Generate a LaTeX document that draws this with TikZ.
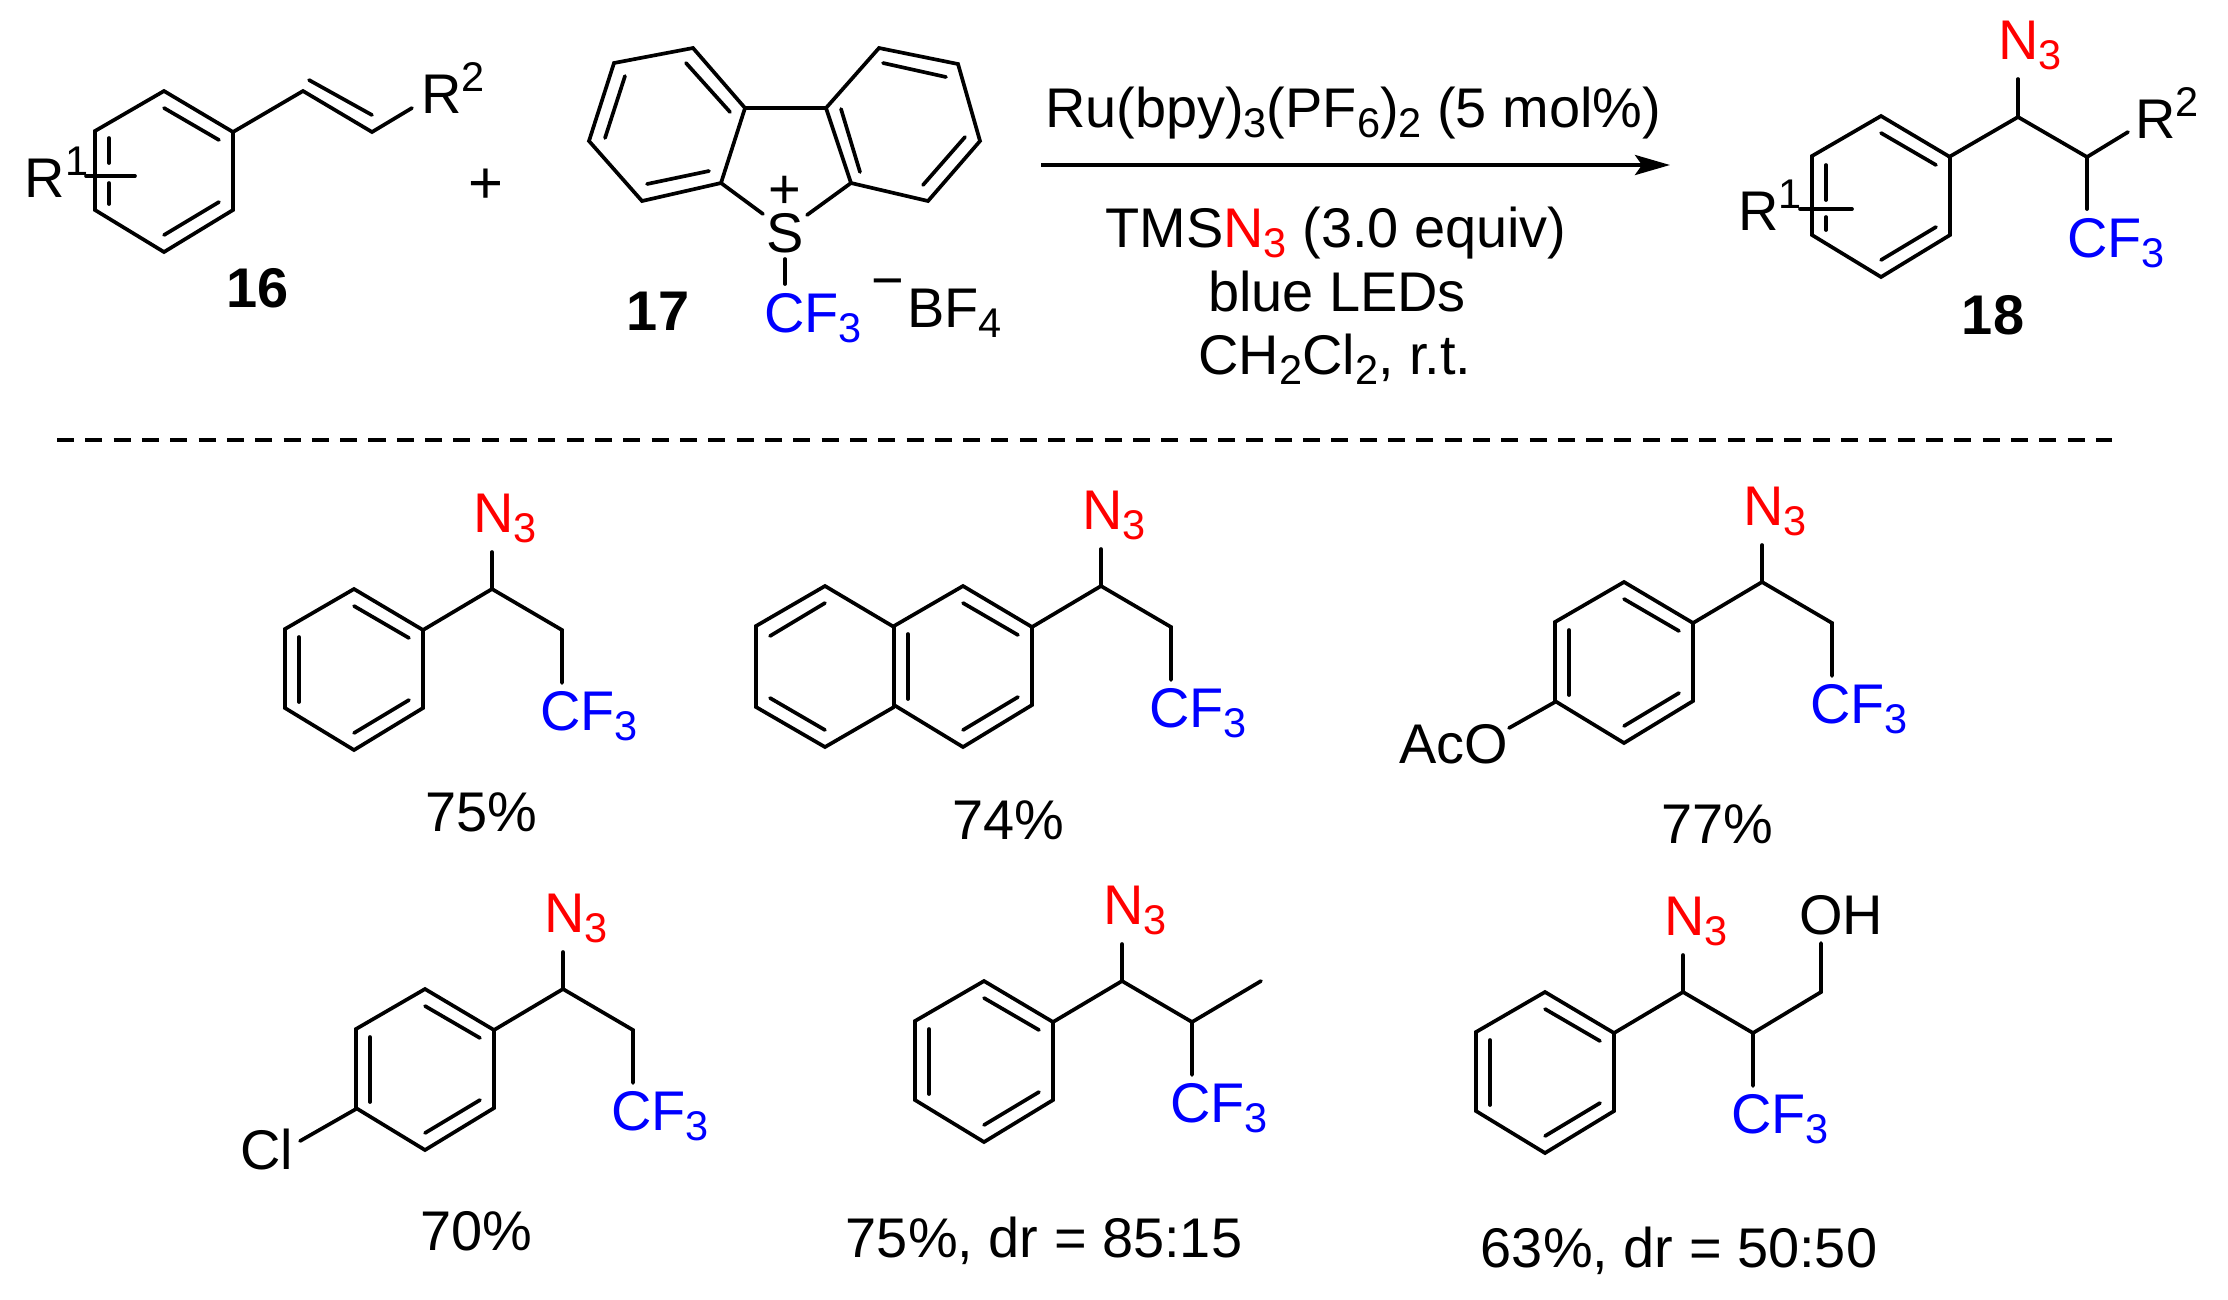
\documentclass[tikz,border=0pt]{standalone}
\usepackage{fontspec}
\setmainfont{Liberation Sans}
\usetikzlibrary{arrows.meta}
\definecolor{azide}{RGB}{255,0,0}
\definecolor{fluoro}{RGB}{0,0,255}
\newcommand{\sbb}[1]{{\fontsize{11.8}{12}\selectfont\raisebox{-3pt}{#1}}}
\newcommand{\spp}[1]{{\fontsize{11.8}{12}\selectfont\raisebox{6pt}{#1}}}
\tikzset{
  bond/.style={line width=1.05pt,line cap=round,line join=miter,black},
  lab/.style={inner sep=0pt,outer sep=0pt,anchor=base west,xshift=-0.04cm,font=\fontsize{15.9}{18}\selectfont},
  ctr/.style={inner sep=0pt,outer sep=0pt,anchor=base,font=\fontsize{15.9}{18}\selectfont},
  num/.style={inner sep=0pt,outer sep=0pt,anchor=base,font=\fontsize{15.9}{18}\selectfont\bfseries},
  ringbase/.pic={
    \draw[bond] (0,0)--(69,41)--(69,119)--(0,161)--(-69,119)--(-69,40)--cycle;
    \draw[bond] (0,17)--(55,49);
    \draw[bond] (55,111)--(0,144);
  },
  ringfull/.pic={
    \pic {ringbase};
    \draw[bond] (-55,48)--(-55,113);
  },
  azcf/.pic={
    \draw[bond] (69,41)--(138,0)--(208,41)--(208,94);
    \draw[bond] (138,0)--(138,-37);
    \node[lab,text=azide] (n) at (123,-57) {N\sbb{3}};
    \node[lab,text=fluoro] (c) at (190,141) {CF\sbb{3}};
  }
}
\begin{document}
\begin{tikzpicture}[x=0.01cm,y=-0.01cm]
\useasboundingbox (0,0) rectangle (2228,1299);
% --- 16
\pic at (164,91) {ringbase};
\draw[bond] (109,138)--(109,163);
\draw[bond] (109,183)--(109,204);
\draw[bond] (86,176)--(135,176);
\draw[bond] (233,132)--(303,91)--(372,132)--(412,108);
\draw[bond] (309,80)--(372,115);
\node[lab] (r1a) at (29,197) {R\spp{1}};
\node[lab] (r2a) at (425,113) {R\spp{2}};
\node[num] (n16) at (258,307) {16};
\node[ctr,font=\fontsize{17}{18}\selectfont] (plus) at (486,203) {+};
% --- 17
\draw[bond] (693,48)--(614,63)--(589,141)--(642,201)--(721,183)--(745,108)--cycle;
\draw[bond] (745,108)--(826,108);
\draw[bond] (826,108)--(879,48)--(958,64)--(980,141)--(928,201)--(851,183)--cycle;
\draw[bond] (625,76)--(605,138);
\draw[bond] (686,63)--(730,112);
\draw[bond] (647,184)--(709,171);
\draw[bond] (883,63)--(946,77);
\draw[bond] (841,109)--(860,172);
\draw[bond] (965,137)--(923,185);
\draw[bond] (721,183)--(763,214);
\draw[bond] (851,183)--(807,215);
\draw[bond] (785,259)--(785,284);
\node[ctr] (s) at (785,252) {S};
\node[ctr] (sp) at (785,208) {+};
\node[lab,text=fluoro] (cf) at (768,332) {CF\sbb{3}};
\node[ctr] (mi) at (888,299) {−};
\node[lab] (bf) at (911,327) {BF\sbb{4}};
\node[num] (n17) at (658,330) {17};
% --- arrow
\coordinate (as) at (1041,165);
\coordinate (ae) at (1670,165);
\draw[line width=1.1pt,-{Stealth[length=0.35cm,width=0.2cm,inset=0.07cm]}] (as)--(ae);
\node[ctr] (t1) at (1353,127) {Ru(bpy)\sbb{3}(PF\sbb{6})\sbb{2} (5 mol\%)};
\node[ctr] (t2) at (1336,247) {TMS{\color{azide}N\sbb{3}} (3.0 equiv)};
\node[ctr] (t3) at (1337,311) {blue LEDs};
\node[ctr] (t4) at (1335,374) {CH\sbb{2}Cl\sbb{2}, r.t.};
% --- 18
\pic at (1881,116) {ringbase};
\draw[bond] (1826,165)--(1826,200);
\draw[bond] (1826,217)--(1826,230);
\draw[bond] (1800,209)--(1852,209);
\draw[bond] (1949,157)--(2018,117)--(2087,157)--(2128,132);
\draw[bond] (2018,117)--(2018,79);
\draw[bond] (2087,157)--(2087,209);
\node[lab,text=azide] (n18) at (2002,59) {N\sbb{3}};
\node[lab] (r218) at (2139,138) {R\spp{2}};
\node[lab,text=fluoro] (c18) at (2071,257) {CF\sbb{3}};
\node[lab] (r118) at (1742,230) {R\spp{1}};
\node[num] (n18b) at (1993,334) {18};
% --- dashed separator
\coordinate (ds) at (57,440);
\coordinate (de) at (2112,440);
\draw[line width=1.05pt,dash pattern=on 0.17cm off 0.113cm] (ds)--(de);
% --- A
\pic at (354,589) {ringfull};
\pic (A) at (354,589) {azcf};
\node[ctr] (ya) at (481,831) {75\%};
% --- B
\pic at (963,586) {ringbase};
\draw[bond] (894,627)--(825,586)--(756,626)--(756,707)--(825,747)--(894,707);
\draw[bond] (825,603)--(770,636);
\draw[bond] (770,698)--(825,730);
\draw[bond] (908,634)--(908,699);
\pic (B) at (963,586) {azcf};
\node[ctr] (yb) at (1008,839) {74\%};
% --- C
\pic at (1624,582) {ringfull};
\pic (C) at (1624,582) {azcf};
\draw[bond] (1555,702)--(1509,728);
\node[lab] (aco) at (1403,763) {AcO};
\node[ctr] (yc) at (1717,843) {77\%};
% --- D
\pic at (425,989) {ringfull};
\pic (D) at (425,989) {azcf};
\draw[bond] (356,1109)--(300,1141);
\node[lab] (cl) at (244,1169) {Cl};
\node[ctr] (yd) at (476,1250) {70\%};
% --- E
\pic at (984,981) {ringfull};
\pic (E) at (984,981) {azcf};
\draw[bond] (1192,1022)--(1261,981);
\node[ctr] (ye) at (1044,1257) {75\%, dr = 85:15};
% --- F
\pic at (1545,992) {ringfull};
\pic (F) at (1545,992) {azcf};
\draw[bond] (1753,1033)--(1821,992)--(1821,943);
\node[lab] (oh) at (1803,934) {OH};
\node[ctr] (yf) at (1679,1267) {63\%, dr = 50:50};
\end{tikzpicture}
\end{document}
